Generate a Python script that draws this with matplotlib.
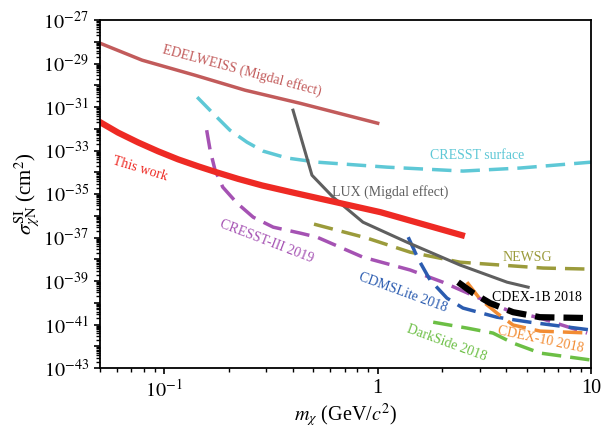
import matplotlib
matplotlib.use("Agg")
import matplotlib.pyplot as plt
import matplotlib.ticker as ticker
import numpy as np

plt.rcParams['font.family'] = ['Liberation Serif', 'DejaVu Serif']
plt.rcParams['mathtext.fontset'] = 'stix'

# limits: mass in GeV/c^2, log10 of cross section in cm^2
edelweiss_m = [0.05, 0.0787, 0.139, 0.239, 0.432, 1.0]
edelweiss_s = [-28.06, -28.84, -29.53, -30.22, -30.82, -31.74]

thiswork_m = [0.05, 0.0607, 0.0753, 0.0935, 0.116, 0.144, 0.179, 0.222, 0.287, 0.41, 1.03, 2.48]
thiswork_s = [-31.69, -32.17, -32.62, -33.03, -33.40, -33.72, -34.02, -34.30, -34.60, -34.95, -35.83, -36.89]

cresst_surf_m = [0.1426, 0.169, 0.203, 0.244, 0.290, 0.376, 0.52, 1.107, 2.51, 4.65, 10.0]
cresst_surf_s = [-30.54, -31.28, -32.06, -32.61, -33.02, -33.34, -33.53, -33.76, -33.94, -33.80, -33.53]

cresst3_m = [0.158, 0.164, 0.173, 0.188, 0.219, 0.261, 0.324, 0.432, 0.52, 0.853, 1.42, 2.02,
             2.92, 4.04, 5.77, 9.58]
cresst3_s = [-32.06, -32.98, -33.90, -34.68, -35.41, -36.06, -36.52, -36.79, -36.98, -37.90, -38.49,
             -39.05, -39.74, -40.33, -40.70, -41.39]

lux_m = [0.401, 0.492, 0.618, 0.853, 1.37, 2.43, 4.04, 5.07]
lux_s = [-31.14, -34.13, -35.14, -36.29, -37.21, -38.26, -39.05, -39.28]

newsg_m = [0.503, 0.89, 1.42, 2.43, 3.74, 5.96, 10.0]
newsg_s = [-36.38, -37.02, -37.67, -38.13, -38.26, -38.40, -38.45]

cdmslite_m = [1.39, 1.55, 1.76, 2.11, 2.51, 3.62, 5.17, 10.0]
cdmslite_s = [-36.98, -37.99, -38.95, -39.78, -40.24, -40.66, -40.89, -41.25]

cdex1b_m = [2.38, 2.80, 3.36, 4.31, 5.76, 9.8]
cdex1b_s = [-39.05, -39.55, -40.01, -40.43, -40.66, -40.70]

cdex10_m = [2.62, 3.02, 3.62, 4.31, 5.77, 9.9]
cdex10_s = [-39.05, -39.83, -40.47, -41.02, -41.30, -41.39]

darkside_m = [1.82, 2.62, 3.47, 4.31, 5.77, 10.0]
darkside_s = [-40.89, -41.16, -41.39, -41.85, -42.31, -42.63]

c_edel = '#c25b5b'
c_this = '#ee2a24'
c_surf = '#5ec8d6'
c_cr3 = '#a552b3'
c_lux = '#5f5f5f'
c_newsg = '#9b9b3b'
c_cdms = '#2b5cb0'
c_cdex1b = '#000000'
c_cdex10 = '#f28c33'
c_ds = '#6cbf45'

fig = plt.figure(figsize=(6.1, 4.29), dpi=100)
ax = fig.add_axes([0.164, 0.142, 0.805, 0.811])


def curve(m, s, color, lw, dashed=False):
    y = 10.0 ** np.array(s)
    if dashed:
        ax.plot(m, y, color=color, lw=lw, dashes=(14.0 / lw, 6.5 / lw))
    else:
        ax.plot(m, y, color=color, lw=lw)


curve(edelweiss_m, edelweiss_s, c_edel, 2.5)
curve(cresst_surf_m, cresst_surf_s, c_surf, 2.5, dashed=True)
curve(cresst3_m, cresst3_s, c_cr3, 2.5, dashed=True)
curve(newsg_m, newsg_s, c_newsg, 2.5, dashed=True)
curve(darkside_m, darkside_s, c_ds, 2.5, dashed=True)
curve(cdmslite_m, cdmslite_s, c_cdms, 2.5, dashed=True)
curve(cdex10_m, cdex10_s, c_cdex10, 2.5, dashed=True)
curve(cdex1b_m, cdex1b_s, c_cdex1b, 4.5, dashed=True)
curve(lux_m, lux_s, c_lux, 2.2)
curve(thiswork_m, thiswork_s, c_this, 4.5)

ax.set_xscale('log')
ax.set_yscale('log')
ax.set_xlim(0.05, 10)
ax.set_ylim(1e-43, 1e-27)

ydec = np.arange(-43, -26)
ax.yaxis.set_major_locator(ticker.FixedLocator(10.0 ** ydec))
ax.yaxis.set_minor_locator(ticker.FixedLocator(
    [k * 10.0 ** d for d in ydec[:-1] for k in range(2, 10)]))
ax.yaxis.set_minor_formatter(ticker.NullFormatter())
ax.yaxis.set_major_formatter(ticker.FixedFormatter(
    [r'$10^{%d}$' % d if d % 2 else '' for d in ydec]))

xdec = np.arange(-2, 1)
ax.xaxis.set_major_locator(ticker.FixedLocator([0.1, 1, 10]))
ax.xaxis.set_major_formatter(ticker.FixedFormatter([r'$10^{-1}$', '1', '10']))
ax.xaxis.set_minor_locator(ticker.FixedLocator(
    [k * 10.0 ** d for d in xdec for k in range(2, 10)]))
ax.xaxis.set_minor_formatter(ticker.NullFormatter())

ax.tick_params(axis='both', which='major', labelsize=14.5, direction='out', length=4.5, width=1.2)
ax.tick_params(axis='both', which='minor', direction='out', length=3, width=1)
for sp in ax.spines.values():
    sp.set_linewidth(1.3)

ax.set_xlabel(r'$m_\chi$ (GeV/$c^2$)', fontsize=14.5, labelpad=0)
ax.set_ylabel(r'$\sigma_{\chi\rm N}^{\rm SI}$ (cm$^2$)', fontsize=15, labelpad=0)

fs = 10
ax.text(0.231, 10 ** -29.3, 'EDELWEISS (Migdal effect)', color=c_edel, fontsize=fs,
        rotation=-15, ha='center', va='center')
ax.text(0.0769, 10 ** -33.85, 'This work', color=c_this, fontsize=fs,
        rotation=-17, ha='center', va='center')
ax.text(2.92, 10 ** -33.21, 'CRESST surface', color=c_surf, fontsize=fs,
        ha='center', va='center')
ax.text(1.14, 10 ** -34.91, 'LUX (Migdal effect)', color=c_lux, fontsize=fs,
        ha='center', va='center')
ax.text(0.3, 10 ** -37.2, 'CRESST-III 2019', color=c_cr3, fontsize=fs,
        rotation=-21, ha='center', va='center')
ax.text(5.01, 10 ** -37.9, 'NEWSG', color=c_newsg, fontsize=fs,
        ha='center', va='center')
ax.text(1.31, 10 ** -39.55, 'CDMSLite 2018', color=c_cdms, fontsize=fs,
        rotation=-20, ha='center', va='center')
ax.text(5.55, 10 ** -39.75, 'CDEX-1B 2018', color=c_cdex1b, fontsize=fs,
        ha='center', va='center')
ax.text(5.77, 10 ** -41.7, 'CDEX-10 2018', color=c_cdex10, fontsize=fs,
        rotation=-12, ha='center', va='center')
ax.text(2.1, 10 ** -41.83, 'DarkSide 2018', color=c_ds, fontsize=fs,
        rotation=-20, ha='center', va='center')

fig.savefig('out.png', dpi=100)
